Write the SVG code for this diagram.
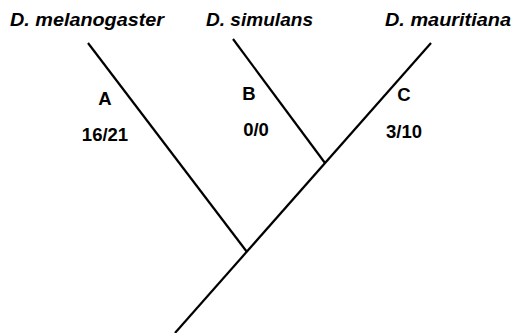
<svg xmlns="http://www.w3.org/2000/svg" width="513" height="333" viewBox="0 0 513 333">
<style>
.t{font-family:"Liberation Sans",Arial,sans-serif;font-weight:bold;fill:#000}
.sp{font-style:italic;font-size:18px}
.lb{font-size:18.5px}
.br{stroke:#000;stroke-width:2.2;fill:none;stroke-linecap:butt}
</style>
<rect width="513" height="333" fill="#fff"/>
<g id="connectors">
<line class="br" x1="175" y1="333" x2="431" y2="43"/>
<line class="br" x1="88" y1="43" x2="247" y2="252"/>
<line class="br" x1="233" y1="39" x2="325" y2="163"/>
</g>
<g id="melanogaster"><text class="t sp" x="10" y="26" textLength="154" lengthAdjust="spacingAndGlyphs">D. melanogaster</text></g>
<g id="simulans"><text class="t sp" x="206" y="26" textLength="107" lengthAdjust="spacingAndGlyphs">D. simulans</text></g>
<g id="mauritiana"><text class="t sp" x="385" y="26" textLength="126" lengthAdjust="spacingAndGlyphs">D. mauritiana</text></g>
<g id="branchA"><text class="t lb" x="105" y="105" text-anchor="middle">A</text><text class="t lb" x="105" y="141" text-anchor="middle">16/21</text></g>
<g id="branchB"><text class="t lb" x="249" y="100" text-anchor="middle">B</text><text class="t lb" x="256" y="136" text-anchor="middle">0/0</text></g>
<g id="branchC"><text class="t lb" x="404" y="101" text-anchor="middle">C</text><text class="t lb" x="404" y="138" text-anchor="middle">3/10</text></g>
</svg>
